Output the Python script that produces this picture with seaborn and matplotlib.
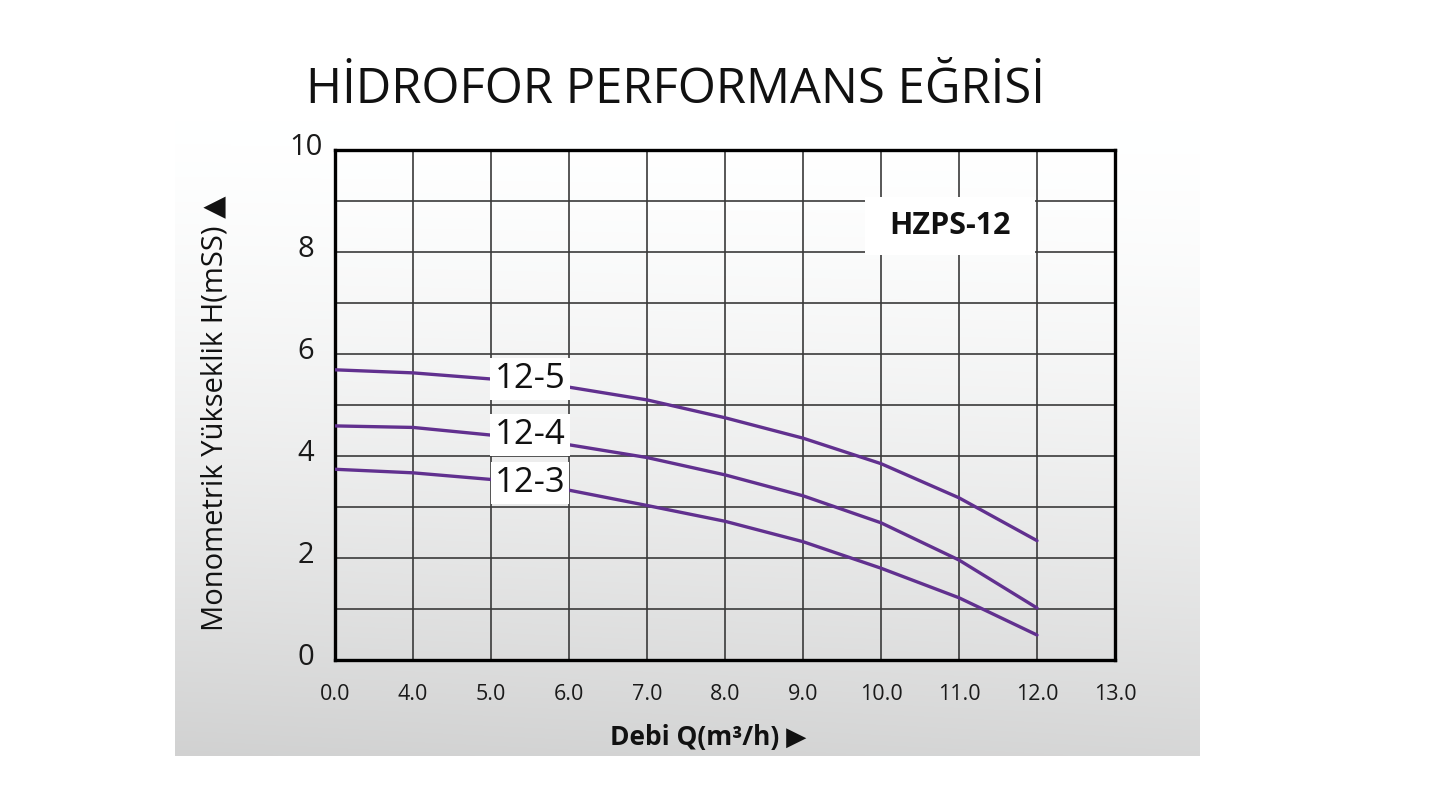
"""HZPS-12 hydrophore performance curve."""
import matplotlib
matplotlib.use("Agg")
import matplotlib.pyplot as plt
import matplotlib.transforms as mtrans
from matplotlib.patches import Rectangle
import numpy as np
import pandas as pd
import seaborn as sns

# flow ticks (the axis is spaced by index, not by value)
flow_ticks = ["0.0", "4.0", "5.0", "6.0", "7.0", "8.0", "9.0", "10.0", "11.0", "12.0", "13.0"]
flow = [0.0, 4.0, 5.0, 6.0, 7.0, 8.0, 9.0, 10.0, 11.0, 12.0]
head_12_5 = [5.69, 5.63, 5.51, 5.35, 5.10, 4.75, 4.35, 3.85, 3.18, 2.34]
head_12_4 = [4.59, 4.56, 4.41, 4.22, 3.97, 3.63, 3.22, 2.69, 1.96, 1.02]
head_12_3 = [3.74, 3.67, 3.54, 3.33, 3.03, 2.72, 2.32, 1.80, 1.22, 0.49]
models = ["12-5", "12-4", "12-3"]
label_y = [5.51, 4.41, 3.47]
y_ticks = list(range(0, 11))
y_ticklabels = ["0", "", "2", "", "4", "", "6", "", "8", "", "10"]

PURPLE = "#61308f"
FONT = ["Open Sans", "DejaVu Sans"]

sns.set_theme(style="white")
plt.rcParams["font.family"] = FONT

df = pd.DataFrame({
    "pos": np.tile(np.arange(len(flow)), 3),
    "head": head_12_5 + head_12_4 + head_12_3,
    "model": np.repeat(models, len(flow)),
})

fig = plt.figure(figsize=(14.4, 8.1), dpi=100)
fig.patch.set_facecolor("white")

# grey gradient panel behind the chart
bg = fig.add_axes([175 / 1440, 1 - 756 / 810, 1025 / 1440, 636 / 810], zorder=0)
t = np.linspace(0, 1, 256)[:, None]
xx = np.linspace(0, 1, 64)[None, :]
shade = 1 - 0.16 * t ** 1.5 - 0.02 * (1 - xx) * t
bg.imshow(np.dstack([shade, shade * 1.002, shade * 1.002]).clip(0, 1),
          aspect="auto", extent=[0, 1, 0, 1], interpolation="bilinear")
bg.set_axis_off()

ax = fig.add_axes([335 / 1440, 1 - 660 / 810, 780 / 1440, 510 / 810], zorder=1)
ax.set_facecolor("none")

sns.lineplot(data=df, x="pos", y="head", hue="model", palette=[PURPLE] * 3,
             legend=False, linewidth=2.4, ax=ax, zorder=3)

ax.set_xlim(0, len(flow_ticks) - 1)
ax.set_ylim(0, 10)
ax.set_xticks(range(len(flow_ticks)))
ax.set_xticklabels(flow_ticks, fontsize=15.5)
ax.set_yticks(y_ticks)
ax.set_yticklabels(y_ticklabels, fontsize=21)
ax.tick_params(axis="both", length=0, colors="#1a1a1a")
ax.tick_params(axis="x", pad=17)
ax.tick_params(axis="y", pad=21)
shift = mtrans.ScaledTranslation(0, 6 / 100, fig.dpi_scale_trans)
for lab in ax.get_yticklabels():
    lab.set_ha("center")
    lab.set_transform(lab.get_transform() + shift)
ax.set_xlabel("")
ax.set_ylabel("")

ax.grid(True, color="#3a3a3a", linewidth=1.2)
ax.set_axisbelow(True)
for sp in ax.spines.values():
    sp.set_color("black")
    sp.set_linewidth(2.4)
    sp.set_visible(True)

for name, yv in zip(models, label_y):
    ax.text(2.5, yv, name, fontsize=25, ha="center", va="center", color="#111111",
            zorder=5, bbox=dict(boxstyle="square,pad=0.12", facecolor="white", edgecolor="none"))

# white card behind the model name
ax.add_patch(Rectangle((6.8, 7.94), 2.17, 1.14, facecolor="white", edgecolor="none", zorder=4))
ax.text(7.88, 8.5, "HZPS-12", fontsize=22, fontweight="bold", ha="center", va="center",
        color="#111111", zorder=5)

fig.text(675 / 1440, 1 - 90 / 810, "HİDROFOR PERFORMANS EĞRİSİ",
         fontsize=35.3, ha="center", va="center", color="#111111", zorder=3)
fig.text(215 / 1440, 1 - 413 / 810, "Monometrik Yükseklik H(mSS) ▲", rotation=90,
         fontsize=21, ha="center", va="center", color="#111111", zorder=3)
fig.text(708 / 1440, 1 - 738 / 810, "Debi Q(m³/h) ▶", fontsize=19, fontweight="bold",
         ha="center", va="center", color="#111111", zorder=3)

fig.savefig("out.png", dpi=100)
plt.close(fig)
